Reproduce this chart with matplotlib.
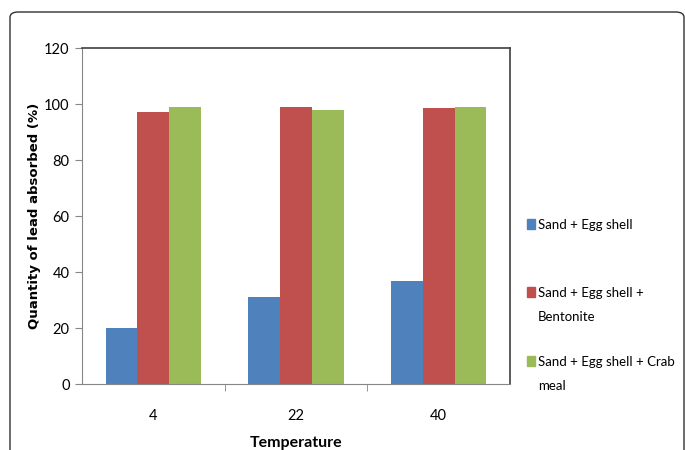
import matplotlib
matplotlib.use('Agg')
import matplotlib.pyplot as plt
from matplotlib.patches import FancyBboxPatch, Rectangle
import numpy as np

temperatures = ['4', '22', '40']
egg_shell = [20.0, 31.0, 36.8]
egg_bentonite = [97.2, 99.0, 98.7]
egg_crab = [99.0, 98.0, 98.8]
series_labels = ['Sand + Egg shell', 'Sand + Egg shell +\nBentonite', 'Sand + Egg shell + Crab\nmeal']
colors = ['#4f81bd', '#c0504d', '#9bbb59']

plt.rcParams['font.family'] = ['Lato', 'DejaVu Sans']

W, H = 685, 450
fig = plt.figure(figsize=(W / 100, H / 100), dpi=100)
ax = fig.add_axes([82 / W, 1 - 384 / H, 428 / W, 336 / H])

# outer chart border, open at the bottom
border = FancyBboxPatch((10 / W, -0.2), 674 / W, 1 - 12 / H + 0.2,
                        boxstyle='round,pad=0,rounding_size=0.012',
                        transform=fig.transFigure, fill=False,
                        edgecolor='#303030', linewidth=1.0)
fig.patches.append(border)

x = np.arange(len(temperatures))
w = 0.222
for i, (vals, c) in enumerate(zip([egg_shell, egg_bentonite, egg_crab], colors)):
    ax.bar(x + (i - 1) * w, vals, width=w, color=c, zorder=2)

ax.set_xlim(-0.5, 2.5)
ax.set_ylim(0, 120)
ax.set_yticks(range(0, 121, 20))
ax.set_xticks(x)
ax.set_xticklabels(temperatures)
ax.set_xticks([0.5, 1.5], minor=True)
ax.tick_params(axis='x', which='major', length=0, pad=18, labelsize=10.5)
ax.tick_params(axis='x', which='minor', length=5, color='#868686', direction='out')
ax.tick_params(axis='y', length=5, color='#868686', labelsize=10.5, pad=4)

for side in ['left', 'bottom']:
    ax.spines[side].set_color('#868686')
for side in ['top', 'right']:
    ax.spines[side].set_color('#404040')
    ax.spines[side].set_linewidth(1.2)

ax.set_ylabel('Quantity of lead absorbed (%)', family='DejaVu Sans',
              fontweight='bold', fontsize=9.5, labelpad=2)
ax.set_xlabel('Temperature', fontweight='bold', fontsize=11.5, labelpad=9)

# legend entries: swatch plus label lines, placed to the right of the plot
legend_rows = [224, 292, 361]
line_step = 24
for lab, c, row in zip(series_labels, colors, legend_rows):
    fig.patches.append(Rectangle((527 / W, 1 - (row + 5) / H), 8 / W, 10 / H,
                                 transform=fig.transFigure, color=c))
    for k, line in enumerate(lab.split('\n')):
        fig.text(538 / W, 1 - (row + 5 + k * line_step) / H, line,
                 fontsize=9.5, va='baseline')

fig.savefig('out.png', dpi=100)
plt.close(fig)
